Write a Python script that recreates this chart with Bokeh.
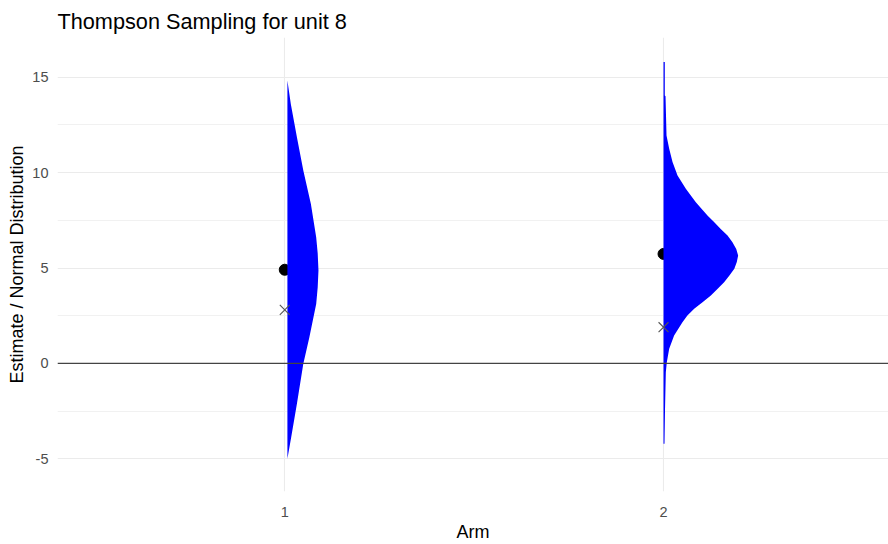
import numpy as np
from bokeh.plotting import figure
from bokeh.models import Range1d, FixedTicker, Span
from bokeh.embed import file_html
from bokeh.resources import INLINE

# ---- data ----
arms = ["1", "2"]
arm_pos = [1, 2]
estimates = [4.91, 5.74]          # black dots
observed = [2.81, 1.90]           # x markers

# half-violin outline of arm 1: y levels and widths (x data units)
arm1_y = [14.83, 13.6, 11.86, 10.11, 8.36, 6.61, 5.76, 4.87, 3.99, 3.12, 1.37, -0.02, -2.12, -3.87, -5.0]
arm1_w = [0.0, 0.009, 0.025, 0.042, 0.062, 0.076, 0.080, 0.082, 0.080, 0.076, 0.058, 0.042, 0.025, 0.010, 0.0]

# half-violin outline of arm 2
arm2_y = [15.79, 14.04, 14.0, 11.94, 11.25, 10.55, 9.85, 9.15, 8.45, 7.75, 7.40, 7.05, 6.70, 6.35, 6.0,
          5.66, 5.31, 4.96, 4.61, 4.26, 3.91, 3.56, 3.21, 2.86, 2.51, 2.16, 1.46, 0.77, 0.06, -0.46, -2.38, -4.21]
arm2_w = [0.0034, 0.0034, 0.0053, 0.0079, 0.015, 0.0238, 0.037, 0.0589, 0.0853, 0.116, 0.134, 0.151, 0.169, 0.182, 0.192,
          0.197, 0.1935, 0.187, 0.174, 0.160, 0.143, 0.125, 0.103, 0.081, 0.063, 0.050, 0.028, 0.015, 0.0087, 0.0061, 0.004, 0.0026]

y_ticks = [-5, 0, 5, 10, 15]
y_tick_labels = ["-5", "0", "5", "10", "15"]
y_minor = [-2.5, 2.5, 7.5, 12.5]

# ---- figure ----
FONT = "Liberation Sans"
p = figure(width=888, height=544, output_backend="svg", toolbar_location=None,
           x_range=Range1d(0.4, 2.594), y_range=Range1d(-6.71, 17.08),
           title="Thompson Sampling for unit 8",
           min_border_left=57, min_border_right=0, min_border_top=37, min_border_bottom=53)
p.outline_line_color = None
p.background_fill_color = "white"

p.title.text_font = FONT
p.title.text_font_size = "21.7px"
p.title.text_font_style = "normal"
p.title.text_color = "black"
p.title.align = "left"
p.title.standoff = 7
p.title.offset = 0

# dots (beneath the violins)
p.scatter(arm_pos, estimates, size=11, color="black")

# half violins
shift = [0.007, 0.0]
for pos, sh, ys, ws in [(arm_pos[0], shift[0], arm1_y, arm1_w), (arm_pos[1], shift[1], arm2_y, arm2_w)]:
    ys = np.array(ys)
    ws = np.array(ws)
    base = np.full(len(ys), pos + sh)
    p.harea(x1=base, x2=base + ws, y=ys, fill_color="#0000FF", fill_alpha=1.0)

# observed values (x markers)
p.scatter(arm_pos, observed, marker="x", size=14, line_color="#555555", line_width=1.1)

p.add_layout(Span(location=0, dimension="width", line_color="#444444", line_width=1.2))

# axes
p.xaxis.ticker = FixedTicker(ticks=arm_pos)
p.xaxis.major_label_overrides = {pos: lab for pos, lab in zip(arm_pos, arms)}
p.yaxis.ticker = FixedTicker(ticks=y_ticks, minor_ticks=y_minor)
p.yaxis.major_label_overrides = {t: lab for t, lab in zip(y_ticks, y_tick_labels)}
p.xaxis.axis_label = "Arm"
p.yaxis.axis_label = "Estimate / Normal Distribution"
for ax in (p.xaxis, p.yaxis):
    ax.axis_line_color = None
    ax.major_tick_line_color = None
    ax.minor_tick_line_color = None
    ax.major_tick_out = 0
    ax.major_tick_in = 0
    ax.minor_tick_out = 0
    ax.minor_tick_in = 0
    ax.major_label_text_font = FONT
    ax.major_label_text_font_size = "14.5px"
    ax.major_label_text_color = "#4D4D4D"
    ax.axis_label_text_font = FONT
    ax.axis_label_text_font_size = "18px"
    ax.axis_label_text_font_style = "normal"
    ax.axis_label_text_color = "black"
p.xaxis.major_label_standoff = 15
p.xaxis.axis_label_standoff = 2
p.yaxis.major_label_standoff = 9
p.yaxis.axis_label_standoff = 2

# grid
p.xgrid.grid_line_color = "#EBEBEB"
p.xgrid.grid_line_width = 1.1
p.ygrid.grid_line_color = "#EBEBEB"
p.ygrid.grid_line_width = 1.1
p.ygrid.minor_grid_line_color = "#EFEFEF"
p.ygrid.minor_grid_line_width = 0.9

open("out.html", "w").write(file_html(p, INLINE))
